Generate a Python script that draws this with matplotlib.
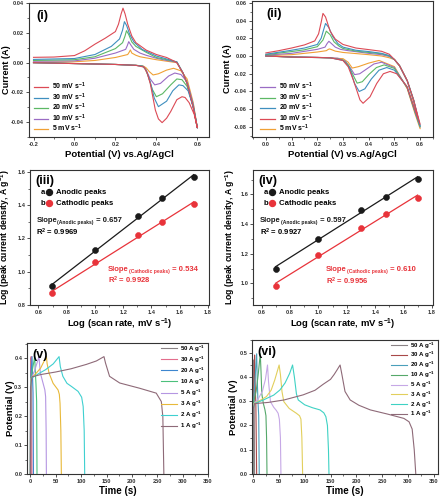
import matplotlib
matplotlib.use("Agg")
import matplotlib.pyplot as plt
from matplotlib.ticker import MultipleLocator, FormatStrFormatter
from matplotlib.lines import Line2D
import numpy as np

plt.rcParams.update({
    "font.family": ["Liberation Sans", "DejaVu Sans"],
    "font.weight": "bold",
    "axes.labelweight": "bold",
    "axes.unicode_minus": False,
    "mathtext.fontset": "custom",
    "mathtext.rm": "Liberation Sans:bold",
    "mathtext.bf": "Liberation Sans:bold",
    "mathtext.it": "Liberation Sans:bold",
    "mathtext.default": "bf",
})

# ---------------- colours ----------------
RED, BLUE, GREEN, PURPLE, ORANGE = "#dc4a55", "#3f8fbf", "#5cb865", "#9a6cc4", "#f0a035"

# ---------------- panel (i): CV, potential (V) / current (A) ----------------
CV1_50_XF = [-0.2, -0.1, 0.0, 0.05, 0.1, 0.15, 0.2, 0.215, 0.228, 0.237, 0.247, 0.26, 0.28, 0.3, 0.35, 0.4, 0.45, 0.48, 0.5, 0.53, 0.55, 0.58, 0.6]
CV1_50_YF = [0.0036, 0.0038, 0.0048, 0.008, 0.0125, 0.0165, 0.021, 0.026, 0.033, 0.0368, 0.033, 0.026, 0.018, 0.0135, 0.0085, 0.0055, 0.0035, 0.0015, 0.0, -0.007, -0.014, -0.03, -0.044]
CV1_50_XR = [0.585, 0.56, 0.54, 0.525, 0.5, 0.47, 0.45, 0.428, 0.41, 0.395, 0.37, 0.355, 0.34, 0.3, 0.2, 0.0, -0.2]
CV1_50_YR = [-0.035, -0.027, -0.0235, -0.023, -0.025, -0.033, -0.0375, -0.0405, -0.038, -0.032, -0.014, -0.007, -0.003, -0.0018, -0.0012, -0.0006, 0.0]

CV1_30_XF = [-0.2, 0.0, 0.1, 0.18, 0.22, 0.235, 0.244, 0.255, 0.27, 0.29, 0.33, 0.4, 0.45, 0.5, 0.53, 0.55, 0.58, 0.6]
CV1_30_YF = [0.0022, 0.0028, 0.0055, 0.011, 0.016, 0.022, 0.0277, 0.025, 0.019, 0.014, 0.009, 0.0045, 0.0025, 0.0005, -0.007, -0.014, -0.03, -0.044]
CV1_30_XR = [0.58, 0.555, 0.53, 0.51, 0.48, 0.45, 0.41, 0.39, 0.37, 0.35, 0.335, 0.3, 0.2, 0.0, -0.2]
CV1_30_YR = [-0.03, -0.019, -0.0155, -0.015, -0.019, -0.026, -0.0297, -0.024, -0.013, -0.005, -0.0025, -0.0018, -0.0012, -0.0006, 0.0]

CV1_20_XF = [-0.2, 0.0, 0.1, 0.2, 0.235, 0.247, 0.254, 0.265, 0.28, 0.3, 0.35, 0.4, 0.45, 0.5, 0.53, 0.55, 0.58, 0.6]
CV1_20_YF = [0.0015, 0.002, 0.004, 0.0095, 0.0135, 0.018, 0.0216, 0.019, 0.014, 0.011, 0.007, 0.0035, 0.002, 0.0005, -0.007, -0.014, -0.03, -0.044]
CV1_20_XR = [0.58, 0.55, 0.525, 0.5, 0.47, 0.43, 0.4, 0.38, 0.36, 0.345, 0.33, 0.3, 0.2, 0.0, -0.2]
CV1_20_YR = [-0.029, -0.016, -0.0115, -0.011, -0.015, -0.021, -0.023, -0.018, -0.009, -0.004, -0.0022, -0.0018, -0.0012, -0.0006, 0.0]

CV1_10_XF = [-0.2, 0.0, 0.1, 0.2, 0.25, 0.258, 0.265, 0.275, 0.29, 0.32, 0.35, 0.4, 0.45, 0.5, 0.53, 0.55, 0.58, 0.6]
CV1_10_YF = [0.001, 0.0012, 0.003, 0.0065, 0.009, 0.0115, 0.0142, 0.012, 0.009, 0.0065, 0.005, 0.003, 0.0015, 0.0003, -0.007, -0.014, -0.03, -0.044]
CV1_10_XR = [0.58, 0.55, 0.52, 0.49, 0.46, 0.42, 0.392, 0.37, 0.35, 0.335, 0.3, 0.2, 0.0, -0.2]
CV1_10_YR = [-0.028, -0.013, -0.008, -0.007, -0.009, -0.014, -0.015, -0.011, -0.005, -0.0025, -0.0018, -0.0012, -0.0006, 0.0]

CV1_5_XF = [-0.2, 0.0, 0.1, 0.2, 0.26, 0.267, 0.273, 0.28, 0.3, 0.32, 0.4, 0.45, 0.5, 0.53, 0.55, 0.58, 0.6]
CV1_5_YF = [0.0003, 0.0006, 0.0015, 0.0035, 0.0055, 0.007, 0.0086, 0.0065, 0.005, 0.004, 0.002, 0.001, 0.0, -0.007, -0.014, -0.03, -0.044]
CV1_5_XR = [0.58, 0.55, 0.52, 0.484, 0.45, 0.41, 0.384, 0.365, 0.35, 0.335, 0.3, 0.2, 0.0, -0.2]
CV1_5_YR = [-0.027, -0.011, -0.0055, -0.0038, -0.005, -0.0075, -0.0083, -0.006, -0.0035, -0.0022, -0.0018, -0.0012, -0.0006, 0.0]

# ---------------- panel (ii): CV ----------------
CV2_R_XF = [0.0, 0.05, 0.1, 0.15, 0.19, 0.205, 0.215, 0.222, 0.232, 0.25, 0.27, 0.3, 0.35, 0.4, 0.45, 0.48, 0.5, 0.52, 0.55, 0.575, 0.6]
CV2_R_YF = [0.0035, 0.006, 0.009, 0.0125, 0.017, 0.025, 0.038, 0.048, 0.044, 0.028, 0.019, 0.013, 0.009, 0.0072, 0.0053, 0.002, -0.004, -0.011, -0.028, -0.05, -0.077]
CV2_R_XR = [0.58, 0.548, 0.509, 0.483, 0.457, 0.431, 0.405, 0.378, 0.366, 0.34, 0.32, 0.3, 0.25, 0.1, 0.0]
CV2_R_YR = [-0.061, -0.034, -0.02, -0.0174, -0.02, -0.031, -0.046, -0.0533, -0.0495, -0.027, -0.012, -0.005, -0.002, -0.0012, 0.0]

CV2_B_XF = [0.0, 0.1, 0.15, 0.2, 0.215, 0.225, 0.232, 0.245, 0.26, 0.28, 0.3, 0.35, 0.4, 0.45, 0.48, 0.5, 0.52, 0.55, 0.575, 0.6]
CV2_B_YF = [0.002, 0.0065, 0.009, 0.013, 0.02, 0.03, 0.0367, 0.032, 0.022, 0.014, 0.01, 0.0065, 0.005, 0.003, 0.0005, -0.004, -0.011, -0.028, -0.05, -0.079]
CV2_B_XR = [0.58, 0.55, 0.5, 0.47, 0.44, 0.41, 0.385, 0.363, 0.345, 0.325, 0.3, 0.25, 0.1, 0.0]
CV2_B_YR = [-0.062, -0.035, -0.016, -0.013, -0.016, -0.026, -0.037, -0.040, -0.031, -0.013, -0.005, -0.002, -0.0012, 0.0]

CV2_G_XF = [0.0, 0.1, 0.15, 0.2, 0.222, 0.235, 0.25, 0.265, 0.285, 0.3, 0.35, 0.4, 0.45, 0.48, 0.5, 0.52, 0.55, 0.575, 0.6]
CV2_G_YF = [0.0015, 0.005, 0.007, 0.0105, 0.018, 0.028, 0.024, 0.016, 0.011, 0.0085, 0.0055, 0.004, 0.0025, 0.0, -0.004, -0.011, -0.028, -0.05, -0.08]
CV2_G_XR = [0.58, 0.55, 0.5, 0.46, 0.43, 0.4, 0.375, 0.355, 0.34, 0.32, 0.3, 0.25, 0.1, 0.0]
CV2_G_YR = [-0.063, -0.036, -0.014, -0.010, -0.013, -0.021, -0.029, -0.0306, -0.022, -0.01, -0.0045, -0.002, -0.0012, 0.0]

CV2_P_XF = [0.0, 0.1, 0.2, 0.23, 0.238, 0.245, 0.255, 0.27, 0.29, 0.32, 0.4, 0.45, 0.48, 0.5, 0.52, 0.55, 0.575, 0.6]
CV2_P_YF = [0.001, 0.003, 0.0075, 0.01, 0.014, 0.0166, 0.014, 0.01, 0.0075, 0.006, 0.003, 0.0015, -0.0005, -0.004, -0.011, -0.028, -0.05, -0.08]
CV2_P_XR = [0.58, 0.55, 0.5, 0.45, 0.42, 0.39, 0.365, 0.345, 0.33, 0.31, 0.28, 0.2, 0.1, 0.0]
CV2_P_YR = [-0.063, -0.036, -0.013, -0.007, -0.009, -0.015, -0.02, -0.021, -0.014, -0.006, -0.0025, -0.0015, -0.001, 0.0]

CV2_O_XF = [0.0, 0.1, 0.2, 0.235, 0.243, 0.248, 0.255, 0.27, 0.3, 0.4, 0.45, 0.48, 0.5, 0.52, 0.55, 0.575, 0.6]
CV2_O_YF = [0.0005, 0.0015, 0.0045, 0.006, 0.0075, 0.008, 0.0072, 0.0055, 0.004, 0.0015, 0.0, -0.002, -0.004, -0.011, -0.028, -0.052, -0.082]
CV2_O_XR = [0.58, 0.55, 0.5, 0.44, 0.4, 0.36, 0.336, 0.32, 0.3, 0.2, 0.1, 0.0]
CV2_O_YR = [-0.065, -0.037, -0.012, -0.005, -0.008, -0.012, -0.0136, -0.007, -0.003, -0.0015, -0.001, 0.0]

CV_LABELS = ["50 mV s$^{-1}$", "30 mV s$^{-1}$", "20 mV s$^{-1}$", "10 mV s$^{-1}$", "5 mV s$^{-1}$"]

# ---------------- panels (iii), (iv): log peak current vs log scan rate ----------------
LOG_RATE = [0.699, 1.0, 1.301, 1.477, 1.699]
P3_ANODIC = [0.914, 1.131, 1.336, 1.443, 1.569]
P3_CATHODIC = [0.870, 1.057, 1.222, 1.302, 1.406]
P4_ANODIC = [1.101, 1.303, 1.498, 1.583, 1.707]
P4_CATHODIC = [0.984, 1.195, 1.377, 1.467, 1.579]

# ---------------- panel (v): GCD, time (s) / potential (V) ----------------
GCD_LABELS = ["50 A g$^{-1}$", "30 A g$^{-1}$", "20 A g$^{-1}$", "10 A g$^{-1}$",
              "5 A g$^{-1}$", "3 A g$^{-1}$", "2 A g$^{-1}$", "1 A g$^{-1}$"]
V_COLORS = ["#8a8285", "#e36d8c", "#3d86cf", "#4cc07c", "#b596e2", "#e8b93a", "#3fd0d0", "#8e6a78"]

V_T50 = [0, 0.3, 0.8, 1.2, 1.6]
V_V50 = [0.0, 0.30, 0.40, 0.32, 0.0]
V_T30 = [0, 0.3, 1.5, 2.2, 3]
V_V30 = [0.0, 0.30, 0.405, 0.33, 0.0]
V_T20 = [0, 0.3, 1, 3.3, 4, 5.2, 6]
V_V20 = [0.0, 0.30, 0.34, 0.405, 0.35, 0.28, 0.0]
V_T10 = [0, 0.3, 1, 4, 8.5, 9.5, 11, 12.3, 13]
V_V10 = [0.0, 0.30, 0.33, 0.36, 0.405, 0.36, 0.31, 0.25, 0.0]
V_T5 = [0, 0.5, 1.5, 8, 17, 18, 19.7, 25, 28.5, 30, 31, 31.5]
V_V5 = [0.0, 0.30, 0.33, 0.355, 0.405, 0.38, 0.348, 0.313, 0.29, 0.267, 0.15, 0.0]
V_T3 = [0, 0.5, 1.5, 10, 20, 31.5, 33, 36.8, 44.7, 54.5, 57, 58.4, 60, 61]
V_V3 = [0.0, 0.30, 0.33, 0.345, 0.365, 0.405, 0.38, 0.348, 0.313, 0.29, 0.275, 0.244, 0.15, 0.0]
V_T2 = [0, 0.5, 2, 15, 30, 45, 56.5, 59, 64, 72, 81, 94, 101, 104, 106, 107]
V_V2 = [0.0, 0.30, 0.33, 0.345, 0.36, 0.38, 0.405, 0.37, 0.337, 0.313, 0.302, 0.285, 0.265, 0.233, 0.15, 0.0]
V_T1 = [0, 0.5, 3, 20, 50, 80, 110, 130, 145, 148, 156, 176, 215, 248, 258, 261, 263]
V_V1 = [0.0, 0.30, 0.335, 0.343, 0.352, 0.363, 0.378, 0.39, 0.405, 0.383, 0.337, 0.314, 0.296, 0.279, 0.25, 0.198, 0.0]

# ---------------- panel (vi): GCD ----------------
VI_COLORS = ["#8a8285", "#a84848", "#4a9fba", "#55a86a", "#c6a8e6", "#e2cf5c", "#3fd2c4", "#8e6a78"]

VI_T50 = [0, 0.3, 0.8, 1.5, 2.2, 3]
VI_V50 = [0.0, 0.27, 0.35, 0.47, 0.30, 0.0]
VI_T30 = [0, 0.3, 1.5, 3, 4, 5.5, 7]
VI_V30 = [0.0, 0.27, 0.33, 0.49, 0.38, 0.28, 0.0]
VI_T20 = [0, 0.3, 1, 3.5, 7, 8, 9.5, 11, 12]
VI_V20 = [0.0, 0.27, 0.30, 0.38, 0.495, 0.40, 0.30, 0.24, 0.0]
VI_T10 = [0, 0.3, 1.5, 6, 10, 14, 15.5, 17, 20, 23, 25, 26.2, 27]
VI_V10 = [0.0, 0.27, 0.30, 0.34, 0.41, 0.495, 0.42, 0.33, 0.29, 0.265, 0.24, 0.15, 0.0]
VI_T5 = [0, 0.5, 2, 10, 18, 24, 28, 30, 33.7, 40, 45, 48.6, 51, 53, 54]
VI_V5 = [0.0, 0.27, 0.29, 0.31, 0.34, 0.39, 0.449, 0.38, 0.298, 0.275, 0.262, 0.25, 0.225, 0.15, 0.0]
VI_T3 = [0, 0.5, 2, 15, 26, 35, 42, 50.5, 53, 56, 59.6, 70, 84, 90, 92.7, 94.5, 96]
VI_V3 = [0.0, 0.27, 0.29, 0.305, 0.319, 0.345, 0.387, 0.449, 0.41, 0.34, 0.298, 0.27, 0.25, 0.24, 0.226, 0.15, 0.0]
VI_T2 = [0, 0.5, 3, 20, 40, 52, 62, 71, 76.5, 80, 84, 87.5, 100, 115, 129.6, 137, 141, 144, 146, 147]
VI_V2 = [0.0, 0.27, 0.29, 0.305, 0.325, 0.346, 0.375, 0.415, 0.449, 0.40, 0.33, 0.305, 0.285, 0.273, 0.264, 0.252, 0.236, 0.20, 0.10, 0.0]
VI_T1 = [0, 0.5, 3, 30, 60, 97, 120, 136, 150, 157, 163, 168.5, 172, 178, 188, 205, 227, 260, 292, 302, 308, 312, 315]
VI_V1 = [0.0, 0.27, 0.29, 0.295, 0.305, 0.326, 0.345, 0.37, 0.39, 0.41, 0.43, 0.449, 0.41, 0.34, 0.305, 0.283, 0.264, 0.247, 0.229, 0.215, 0.185, 0.10, 0.0]


W, H = 440, 500


def ax_px(fig, left, top, right, bottom):
    """Axes from pixel box (y measured from the top)."""
    return fig.add_axes([left / W, 1 - bottom / H, (right - left) / W, (bottom - top) / H])


def style(ax, xmaj, ymaj, xfmt, yfmt):
    for s in ax.spines.values():
        s.set_linewidth(0.8)
        s.set_color("#333333")
    ax.xaxis.set_major_locator(MultipleLocator(xmaj))
    ax.xaxis.set_minor_locator(MultipleLocator(xmaj / 2))
    ax.yaxis.set_major_locator(MultipleLocator(ymaj))
    ax.yaxis.set_minor_locator(MultipleLocator(ymaj / 2))
    ax.xaxis.set_major_formatter(FormatStrFormatter(xfmt))
    ax.yaxis.set_major_formatter(FormatStrFormatter(yfmt))
    ax.tick_params(which="major", direction="out", length=2.2, width=0.6, labelsize=4.1, pad=1.3, colors="#333333")
    ax.tick_params(which="minor", direction="out", length=1.3, width=0.5, colors="#333333")
    for lab in ax.get_xticklabels() + ax.get_yticklabels():
        lab.set_fontweight("bold")


def loop(xf, yf, xr, yr):
    return list(xf) + list(xr), list(yf) + list(yr)


def cv_legend(ax, colors, x0):
    handles = [Line2D([0], [0], color=c, lw=0.9) for c in colors]
    ax.legend(handles, CV_LABELS, loc="lower left", bbox_to_anchor=(x0, -0.015), frameon=False,
              fontsize=5, handlelength=2.1, handletextpad=0.55, labelspacing=-0.12,
              borderaxespad=0.3)


fig = plt.figure(figsize=(W / 100, H / 100), dpi=100)

# ---- (i) ----
ax1 = ax_px(fig, 29, 3, 209, 137)
curves1 = [(CV1_5_XF, CV1_5_YF, CV1_5_XR, CV1_5_YR, ORANGE),
           (CV1_10_XF, CV1_10_YF, CV1_10_XR, CV1_10_YR, PURPLE),
           (CV1_20_XF, CV1_20_YF, CV1_20_XR, CV1_20_YR, GREEN),
           (CV1_30_XF, CV1_30_YF, CV1_30_XR, CV1_30_YR, BLUE),
           (CV1_50_XF, CV1_50_YF, CV1_50_XR, CV1_50_YR, RED)]
for xf, yf, xr, yr, c in curves1:
    x, y = loop(xf, yf, xr, yr)
    ax1.plot(x, y, color=c, lw=0.8)
ax1.set_xlim(-0.222, 0.657)
ax1.set_ylim(-0.0502, 0.0403)
style(ax1, 0.2, 0.02, "%.1f", "%.2f")
ax1.set_xlabel("Potential (V) vs.Ag/AgCl", fontsize=6.8, labelpad=2)
ax1.set_ylabel("Current (A)", fontsize=6.6)
ax1.yaxis.set_label_coords(-0.1, 0.5)
ax1.text(0.04, 0.95, "(i)", transform=ax1.transAxes, fontsize=9, fontweight="bold", va="top")
cv_legend(ax1, [RED, BLUE, GREEN, PURPLE, ORANGE], 0.0)

# ---- (ii) ----
ax2 = ax_px(fig, 252, 1, 433, 137)
curves2 = [(CV2_O_XF, CV2_O_YF, CV2_O_XR, CV2_O_YR, ORANGE),
           (CV2_P_XF, CV2_P_YF, CV2_P_XR, CV2_P_YR, PURPLE),
           (CV2_G_XF, CV2_G_YF, CV2_G_XR, CV2_G_YR, GREEN),
           (CV2_B_XF, CV2_B_YF, CV2_B_XR, CV2_B_YR, BLUE),
           (CV2_R_XF, CV2_R_YF, CV2_R_XR, CV2_R_YR, RED)]
for xf, yf, xr, yr, c in curves2:
    x, y = loop(xf, yf, xr, yr)
    ax2.plot(x, y, color=c, lw=0.8)
ax2.set_xlim(-0.054, 0.65)
ax2.set_ylim(-0.0913, 0.062)
style(ax2, 0.1, 0.02, "%.1f", "%.2f")
ax2.set_xlabel("Potential (V) vs.Ag/AgCl", fontsize=6.8, labelpad=2)
ax2.set_ylabel("Current (A)", fontsize=6.6)
ax2.yaxis.set_label_coords(-0.108, 0.5)
ax2.text(0.08, 0.95, "(ii)", transform=ax2.transAxes, fontsize=9, fontweight="bold", va="top")
cv_legend(ax2, [PURPLE, GREEN, BLUE, RED, ORANGE], 0.02)


# ---- (iii), (iv) ----
def slope_text(ax, x, y, name, value, color, fs=5.5, sub=3.6):
    t1 = ax.text(x, y, "Slope", transform=ax.transAxes, fontsize=fs, va="bottom", color=color)
    t2 = ax.annotate("(%s peaks)" % name, xy=(1, 0), xycoords=t1, xytext=(0.2, -0.8),
                     textcoords="offset points", fontsize=sub, va="bottom", color=color)
    ax.annotate(" = %s" % value, xy=(1, 0), xycoords=(t2, t1), fontsize=fs, va="bottom", color=color)


def log_panel(ax, anodic, cathodic, tag, slopes, r2s, pos_a, pos_c):
    for yv, c in ((anodic, "#1a1a1a"), (cathodic, "#e8333a")):
        k, b = np.polyfit(LOG_RATE, yv, 1)
        xs = np.array([LOG_RATE[0], LOG_RATE[-1]])
        ax.plot(xs, k * xs + b, color=c, lw=0.9, zorder=2)
        ax.plot(LOG_RATE, yv, "o", ms=4.3, mfc=c, mec=c, mew=0.4, zorder=3)
    ax.set_xlim(0.54, 1.807)
    style(ax, 0.2, 0.2, "%.1f", "%.1f")
    ax.set_xlabel("Log (scan rate, mV s$^{-1}$)", fontsize=6.8, labelpad=1.5)
    ax.set_ylabel("Log (peak current density, A g$^{-1}$)", fontsize=6.2)
    ax.text(0.03, 0.965, tag, transform=ax.transAxes, fontsize=9, fontweight="bold", va="top")
    # legend rows
    for i, (lab, c) in enumerate((("Anodic peaks", "#1a1a1a"), ("Cathodic peaks", "#e8333a"))):
        yy = 0.835 - i * 0.08
        ax.text(0.06, yy, "ab"[i], transform=ax.transAxes, fontsize=5.5, va="center")
        ax.plot([0.105], [yy], "o", ms=4.3, mfc=c, mec=c, transform=ax.transAxes)
        ax.text(0.145, yy, lab, transform=ax.transAxes, fontsize=5.6, va="center")
    slope_text(ax, pos_a[0], pos_a[1], "Anodic", slopes[0], "#1a1a1a")
    ax.text(pos_a[0], pos_a[1] - 0.1, "R$^{2}$ = %s" % r2s[0], transform=ax.transAxes,
            fontsize=5.5, va="bottom")
    slope_text(ax, pos_c[0], pos_c[1], "Cathodic", slopes[1], "#e8333a")
    ax.text(pos_c[0], pos_c[1] - 0.1, "R$^{2}$ = %s" % r2s[1], transform=ax.transAxes,
            fontsize=5.5, va="bottom", color="#e8333a")


ax3 = ax_px(fig, 30, 170, 209, 305)
log_panel(ax3, P3_ANODIC, P3_CATHODIC, "(iii)", ("0.657", "0.534"), ("0.9969", "0.9928"),
          (0.035, 0.6), (0.435, 0.24))
ax3.set_ylim(0.8, 1.612)
ax3.yaxis.set_label_coords(-0.098, 0.5)

ax4 = ax_px(fig, 253, 170, 433, 305)
log_panel(ax4, P4_ANODIC, P4_CATHODIC, "(iv)", ("0.597", "0.610"), ("0.9927", "0.9956"),
          (0.04, 0.6), (0.405, 0.235))
ax4.set_ylim(0.855, 1.765)
ax4.yaxis.set_label_coords(-0.089, 0.5)


# ---- (v), (vi) ----
def gcd_panel(ax, series, colors, tag, ylim, ymaj, spacing):
    for (t, v), c, lab in zip(series, colors, GCD_LABELS):
        ax.plot(t, v, color=c, lw=0.8, label=lab)
    ax.set_ylim(*ylim)
    style(ax, 50, ymaj, "%d", "%.1f")
    ax.set_xlabel("Time (s)", fontsize=7, labelpad=1.5)
    ax.set_ylabel("Potential (V)", fontsize=6.8)
    ax.text(0.03, 0.955, tag, transform=ax.transAxes, fontsize=9, fontweight="bold", va="top")
    ax.legend(loc="upper right", bbox_to_anchor=(1.0, 1.02), frameon=False, fontsize=4.4,
              handlelength=2.6, handletextpad=0.5, labelspacing=spacing, borderaxespad=0.1)


ax5 = ax_px(fig, 27, 343, 208, 474)
gcd_panel(ax5, [(V_T50, V_V50), (V_T30, V_V30), (V_T20, V_V20), (V_T10, V_V10),
                (V_T5, V_V5), (V_T3, V_V3), (V_T2, V_V2), (V_T1, V_V1)],
          V_COLORS, "(v)", (0, 0.452), 0.1, 0.12)
ax5.set_xlim(-6.7, 350)
ax5.yaxis.set_label_coords(-0.069, 0.5)

ax6 = ax_px(fig, 252, 340, 438, 474)
gcd_panel(ax6, [(VI_T50, VI_V50), (VI_T30, VI_V30), (VI_T20, VI_V20), (VI_T10, VI_V10),
                (VI_T5, VI_V5), (VI_T3, VI_V3), (VI_T2, VI_V2), (VI_T1, VI_V1)],
          VI_COLORS, "(vi)", (0, 0.552), 0.1, -0.08)
ax6.set_xlim(-2, 358)
ax6.yaxis.set_label_coords(-0.075, 0.5)

fig.savefig("out.png", dpi=100)
